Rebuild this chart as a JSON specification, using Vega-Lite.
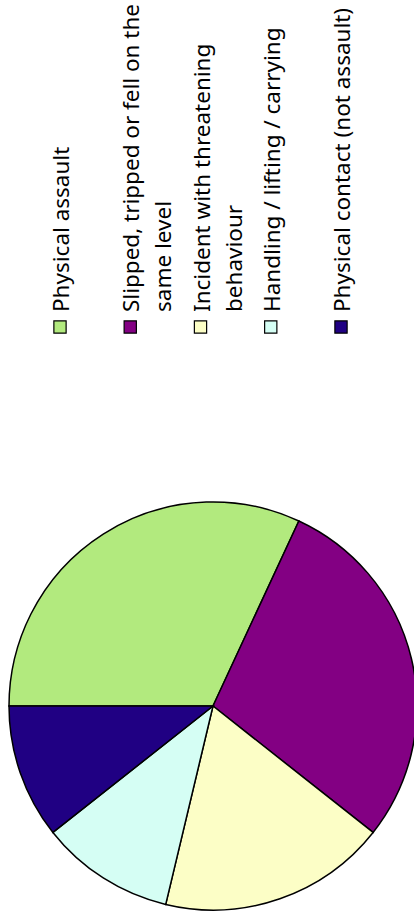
{
  "$schema": "https://vega.github.io/schema/vega-lite/v6.json",
  "padding": 0,
  "background": "white",
  "spacing": 175,
  "bounds": "flush",
  "config": {"view": {"stroke": null}},
  "datasets": {
    "injuries": [
      {"category": "Physical assault", "label": "Physical assault", "count": 30, "idx": 0},
      {"category": "Slipped, tripped or fell on the same level", "label": "Slipped, tripped or fell on the|same level", "count": 27, "idx": 1},
      {"category": "Incident with threatening behaviour", "label": "Incident with threatening|behaviour", "count": 17, "idx": 2},
      {"category": "Handling / lifting / carrying", "label": "Handling / lifting / carrying", "count": 10, "idx": 3},
      {"category": "Physical contact (not assault)", "label": "Physical contact (not assault)", "count": 10, "idx": 4}
    ]
  },
  "vconcat": [
    {
      "width": 414,
      "height": 327,
      "data": {"name": "injuries"},
      "encoding": {
        "x": {"field": "idx", "type": "quantitative", "scale": {"domain": [0, 4], "range": [60, 341]}, "axis": null},
        "y": {"datum": 0, "type": "quantitative", "scale": {"domain": [0, 1]}, "axis": null}
      },
      "layer": [
        {
          "mark": {"type": "square", "size": 150, "filled": true, "stroke": "black", "strokeWidth": 1.2, "opacity": 1},
          "encoding": {
            "color": {
              "field": "category", "type": "nominal", "legend": null,
              "scale": {
                "domain": ["Physical assault", "Slipped, tripped or fell on the same level", "Incident with threatening behaviour", "Handling / lifting / carrying", "Physical contact (not assault)"],
                "range": ["#B2EA7E", "#830083", "#FCFEC6", "#D5FEF4", "#200083"]
              }
            }
          }
        },
        {
          "mark": {"type": "text", "angle": 270, "align": "left", "baseline": "alphabetic", "dx": 15, "dy": 9, "font": "Noto Sans", "fontSize": 22.5, "lineHeight": 32, "lineBreak": "|", "color": "black"},
          "encoding": {"text": {"field": "label", "type": "nominal"}}
        }
      ]
    },
    {
      "width": 426,
      "height": 408,
      "data": {"name": "injuries"},
      "mark": {"type": "arc", "outerRadius": 204, "stroke": "black", "strokeWidth": 1.5},
      "encoding": {
        "theta": {"field": "count", "type": "quantitative", "stack": true, "scale": {"range": [-1.5708, 4.7124]}},
        "order": {"field": "idx", "type": "quantitative"},
        "color": {
          "field": "category", "type": "nominal", "legend": null,
          "scale": {
            "domain": ["Physical assault", "Slipped, tripped or fell on the same level", "Incident with threatening behaviour", "Handling / lifting / carrying", "Physical contact (not assault)"],
            "range": ["#B2EA7E", "#830083", "#FCFEC6", "#D5FEF4", "#200083"]
          }
        }
      }
    }
  ]
}
